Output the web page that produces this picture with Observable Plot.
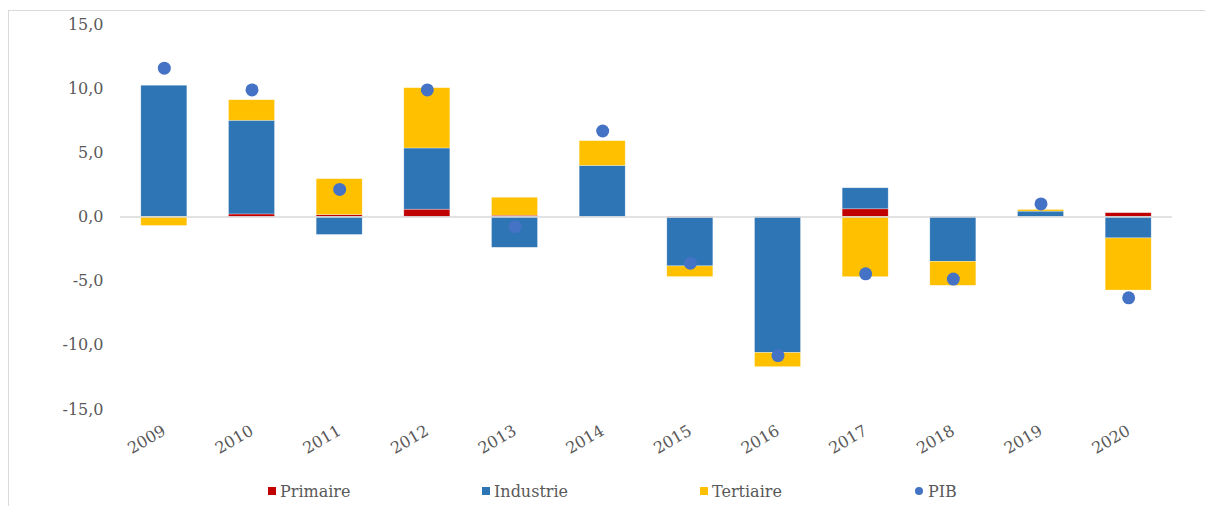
<!DOCTYPE html>
<html>
<head>
<meta charset="utf-8">
<script src="https://cdn.jsdelivr.net/npm/d3@7"></script>
<script src="https://cdn.jsdelivr.net/npm/@observablehq/plot@0.6"></script>
<style>
  html, body { margin: 0; padding: 0; background: #fff; width: 1205px; height: 506px; overflow: hidden; }
  #frame { position: absolute; left: 8px; top: 10px; width: 1220px; height: 520px; border: 1.5px solid #d9d9d9; box-sizing: border-box; }
  #chart { position: absolute; left: 0; top: 0; }
  #legend { position: absolute; top: 480px; left: 0; width: 1205px; height: 24px; font-family: "DejaVu Serif", serif; font-size: 16px; color: #595959; }
  .item { position: absolute; top: 0; display: flex; align-items: center; height: 22px; }
  .sw { width: 8px; height: 8px; margin-right: 4px; }
  .dot { width: 8px; height: 8px; border-radius: 50%; margin-right: 5px; }
</style>
</head>
<body>
<div id="frame"></div>
<div id="chart"></div>
<div id="legend"></div>
<script>
const years = ["2009","2010","2011","2012","2013","2014","2015","2016","2017","2018","2019","2020"];
const primaire  = [0.0, 0.2, 0.15, 0.57, 0.1, 0.0, -0.05, 0.0, 0.6, 0.0, 0.0, 0.3];
const industrie = [10.23, 7.3, -1.4, 4.77, -2.4, 3.98, -3.8, -10.6, 1.64, -3.49, 0.42, -1.67];
const tertiaire = [-0.7, 1.6, 2.8, 4.7, 1.4, 1.93, -0.83, -1.1, -4.69, -1.87, 0.13, -4.06];
const pib       = [11.6, 9.9, 2.15, 9.9, -0.75, 6.7, -3.6, -10.8, -4.43, -4.84, 1.02, -6.3];
const seriesNames = ["Primaire", "Industrie", "Tertiaire"];
const seriesColors = ["#C00000", "#2E75B6", "#FFC000"];
const pibColor = "#4472C4";
const yTicks = [-15, -10, -5, 0, 5, 10, 15];

const seriesValues = [primaire, industrie, tertiaire];
const table = [];
years.forEach((y, i) => {
  seriesNames.forEach((s, j) => table.push({year: y, serie: s, value: seriesValues[j][i]}));
});
const pibData = years.map((y, i) => ({year: y, value: pib[i]}));

const fmt = d => d.toFixed(1).replace(".", ",");

const chart = Plot.plot({
  width: 1205,
  height: 460,
  marginLeft: 120,
  marginRight: 33,
  marginTop: 24,
  marginBottom: 51,
  style: {fontFamily: "DejaVu Serif, serif", fontSize: "16px", color: "#595959", background: "transparent"},
  x: {domain: years, paddingInner: 0.475, paddingOuter: 0.2375, round: false, label: null},
  y: {domain: [-15, 15], label: null},
  color: {domain: seriesNames, range: seriesColors},
  marks: [
    Plot.axisY({ticks: yTicks, tickFormat: fmt, tickSize: 0, tickPadding: 17, label: null, fontSize: 16}),
    Plot.axisX({tickRotate: -30, tickSize: 0, tickPadding: 20, label: null, fontSize: 16}),
    Plot.barY(table, Plot.stackY({x: "year", y: "value", fill: "serie", order: seriesNames, stroke: "#ffffff", strokeOpacity: 0.5, strokeWidth: 0.6})),
    Plot.ruleY([0], {stroke: "#d9d9d9", strokeWidth: 1.5}),
    Plot.dot(pibData, {x: "year", y: "value", r: 6.5, fill: pibColor})
  ]
});
document.getElementById("chart").appendChild(chart);

const legendItems = [
  {label: "Primaire", color: seriesColors[0], left: 268, shape: "sw"},
  {label: "Industrie", color: seriesColors[1], left: 482, shape: "sw"},
  {label: "Tertiaire", color: seriesColors[2], left: 700, shape: "sw"},
  {label: "PIB", color: pibColor, left: 915, shape: "dot"}
];
const lg = document.getElementById("legend");
legendItems.forEach(it => {
  const d = document.createElement("div");
  d.className = "item";
  d.style.left = it.left + "px";
  const s = document.createElement("span");
  s.className = it.shape;
  s.style.background = it.color;
  const t = document.createElement("span");
  t.textContent = it.label;
  d.appendChild(s); d.appendChild(t);
  lg.appendChild(d);
});
</script>
</body>
</html>
